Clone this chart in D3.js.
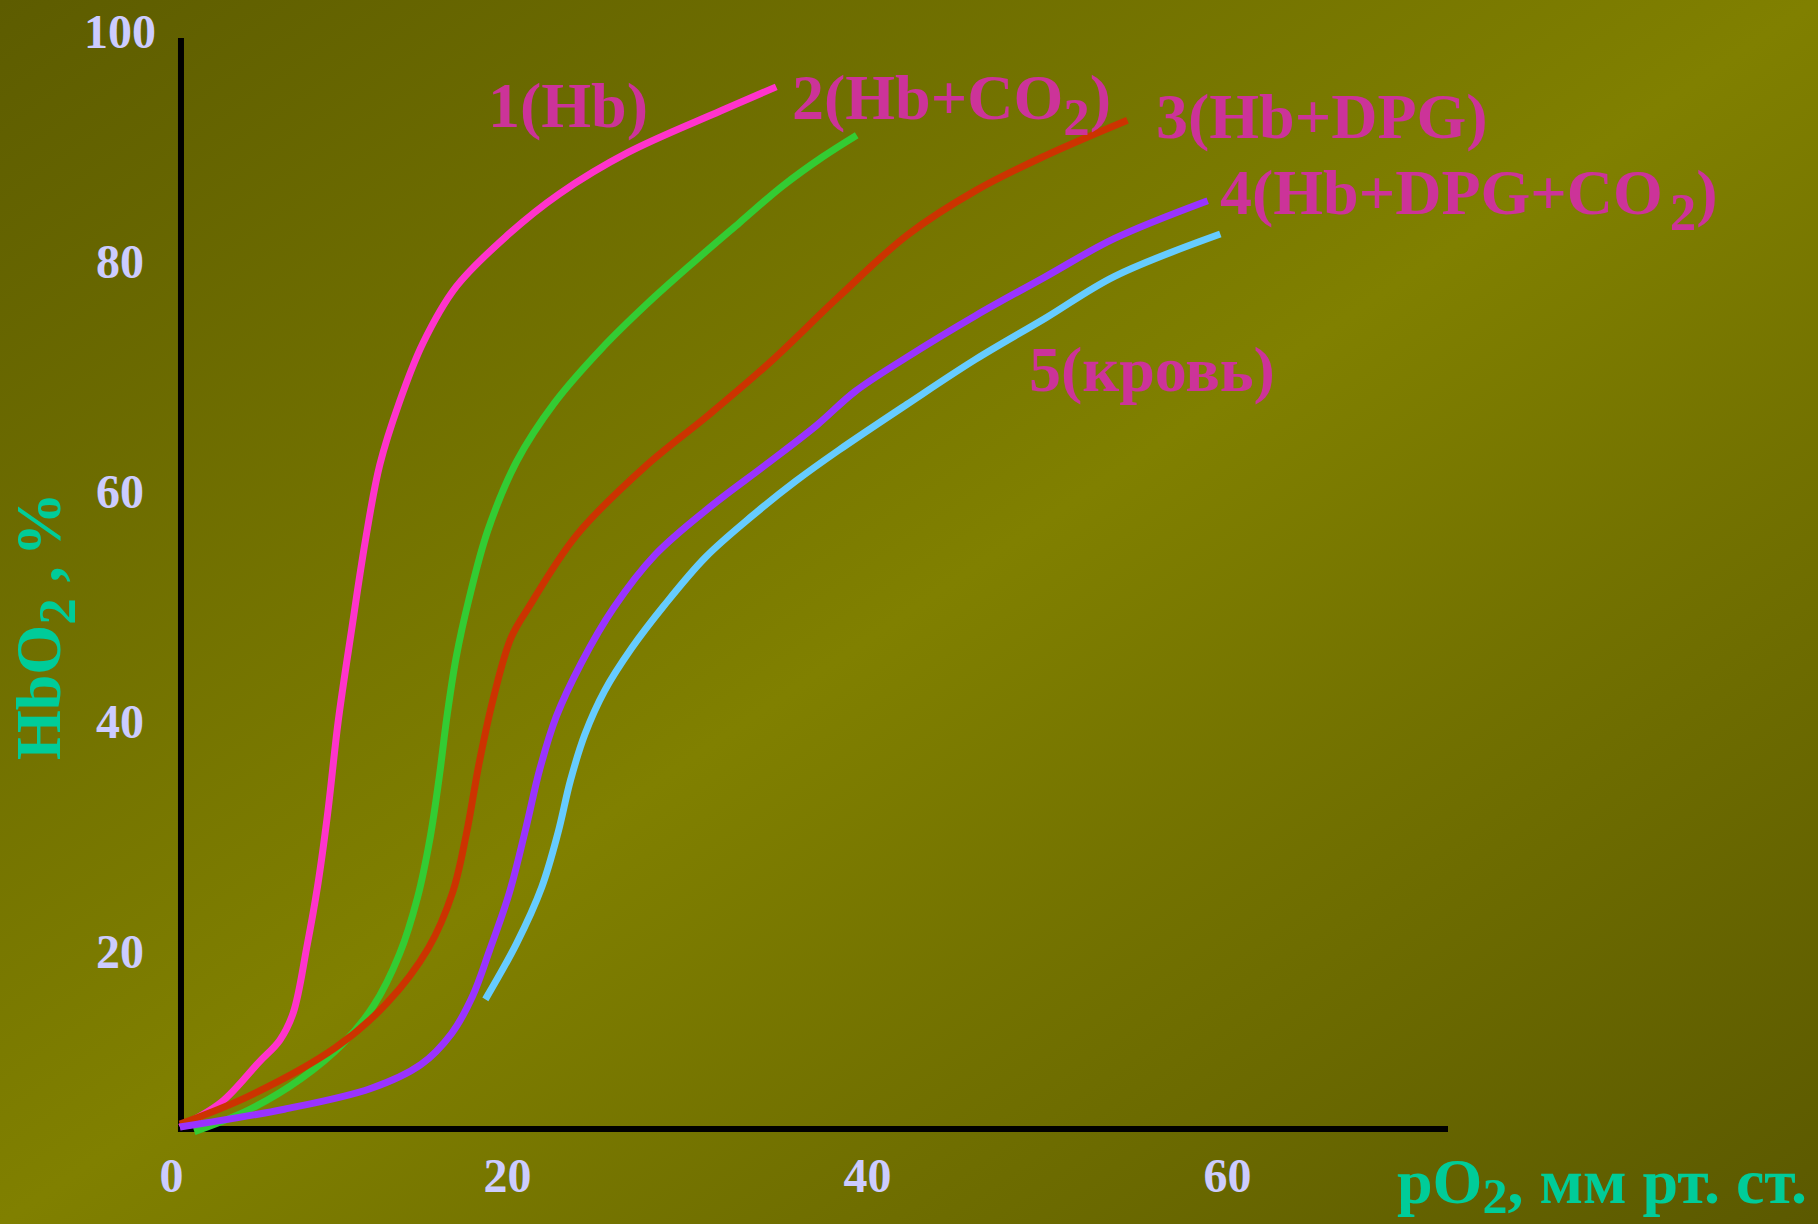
<!DOCTYPE html>
<html>
<head>
<meta charset="utf-8">
<script src="https://cdn.jsdelivr.net/npm/d3@7"></script>
<style>
  html, body { margin: 0; padding: 0; background: #6f6e00; }
  svg { display: block; }
  text { font-family: "Liberation Serif", "Times New Roman", serif; font-weight: bold; }
</style>
</head>
<body>
<svg id="chart" width="1818" height="1224"></svg>
<script>
// ---- data (pO2 in mm Hg, HbO2 in %) ----
const seriesNames = ["1(Hb)", "2(Hb+CO2)", "3(Hb+DPG)", "4(Hb+DPG+CO2)", "5(кровь)"];

const curveHb = [
  [1.8,4.65],[4.1,6.8],[6.2,10.3],[7.35,12.2],[8.1,14.6],[8.85,20.3],[9.45,25.6],[10.0,31.8],
  [10.6,40.0],[11.35,48.0],[12.1,55.6],[12.9,62.2],[14.0,67.7],[15.3,72.8],[17.14,77.7],
  [20.0,82.2],[22.88,85.8],[26.7,89.4],[31.83,93.0],[34.93,95.1]
];
const curveHbCO2 = [
  [2.6,4.25],[5.66,6.17],[8.53,8.86],[10.82,11.85],[12.54,15.15],[14.0,19.7],[15.0,24.6],
  [15.7,29.8],[16.2,35.0],[16.65,40.5],[17.15,45.5],[17.85,50.5],[18.9,56.5],[20.5,62.5],
  [22.6,67.6],[25.2,72.3],[27.8,76.3],[30.3,79.8],[32.9,83.3],[35.3,86.5],[37.5,89.0],[39.4,90.9]
];
const curveHbDPG = [
  [1.8,4.9],[5.66,7.36],[10.44,11.55],[13.31,15.44],[15.6,20.2],[16.94,25.0],[17.71,30.1],
  [18.45,36.5],[19.24,42.1],[20.2,47.2],[21.2,49.9],[23.83,56.1],[27.66,62.1],[31.2,66.6],
  [34.55,71.1],[38.37,76.8],[42.2,82.2],[46.03,86.1],[49.86,89.1],[54.44,92.2]
];
const curveHbDPGCO2 = [
  [1.8,4.65],[7.6,6.2],[12.4,8.0],[15.2,10.1],[16.9,12.8],[18.05,16.0],[19.0,20.0],[20.1,25.0],
  [21.0,30.5],[21.8,35.8],[22.7,40.3],[24.1,45.0],[25.9,49.8],[28.2,54.4],[31.2,58.5],
  [34.4,62.3],[37.2,65.7],[39.3,68.6],[42.2,71.6],[46.0,75.2],[49.9,78.6],[53.7,81.9],[58.9,85.2]
];
const curveBlood = [
  [18.77,15.75],[20.5,20.6],[21.9,25.5],[22.8,30.2],[23.5,34.8],[24.3,38.8],[25.4,42.6],
  [26.9,46.3],[28.7,50.0],[31.0,54.2],[33.6,57.8],[36.0,60.8],[38.4,63.5],[42.2,67.5],
  [46.0,71.4],[49.9,75.0],[53.7,78.6],[59.6,82.3]
];
const seriesColors = ["#FF33CC", "#33CC33", "#CC3300", "#9933FF", "#66CCFF"];

const xTickValues = [0, 20, 40, 60];
const xTickLabels = ["0", "20", "40", "60"];
const yTickValues = [20, 40, 60, 80, 100];
const yTickLabels = ["20", "40", "60", "80", "100"];

// ---- layout ----
const svg = d3.select("#chart");
const W = 1818, H = 1224;

const x = d3.scaleLinear().domain([0, 60]).range([147.5, 1227.5]);
const y = d3.scaleLinear().domain([0, 100]).range([1180.5, 30.5]);

// background gradient
const defs = svg.append("defs");
const grad = defs.append("linearGradient").attr("id", "bg")
  .attr("x1", 0).attr("y1", 0).attr("x2", 1).attr("y2", 1);
grad.append("stop").attr("offset", "0%").attr("stop-color", "#5d5c00");
grad.append("stop").attr("offset", "50%").attr("stop-color", "#808000");
grad.append("stop").attr("offset", "100%").attr("stop-color", "#5b5900");
svg.append("rect").attr("width", W).attr("height", H).attr("fill", "url(#bg)");

// axes frame (drawn where the curves originate)
const axisX0 = 1.86, axisY0 = 4.48, axisXEnd = 72.25, axisYEnd = 99.35;
svg.append("line")
  .attr("x1", x(axisX0)).attr("x2", x(axisX0))
  .attr("y1", y(axisYEnd)).attr("y2", y(axisY0) + 3)
  .attr("stroke", "#000").attr("stroke-width", 6);
svg.append("line")
  .attr("x1", x(axisX0) - 3).attr("x2", x(axisXEnd))
  .attr("y1", y(axisY0)).attr("y2", y(axisY0))
  .attr("stroke", "#000").attr("stroke-width", 6);

// tick labels
svg.append("g").selectAll("text").data(yTickValues).join("text")
  .attr("x", 120).attr("y", d => y(d) + 17)
  .attr("text-anchor", "middle")
  .attr("font-size", 48).attr("fill", "#CCCCFF")
  .text((d, i) => yTickLabels[i]);

svg.append("g").selectAll("text").data(xTickValues).join("text")
  .attr("x", d => x(d) + (d === 0 ? 24 : 0)).attr("y", 1192)
  .attr("text-anchor", "middle")
  .attr("font-size", 48).attr("fill", "#CCCCFF")
  .text((d, i) => xTickLabels[i]);

// curves
const line = d3.line()
  .x(d => x(d[0])).y(d => y(d[1]))
  .curve(d3.curveCatmullRom.alpha(0.5));
const allCurves = [curveHb, curveHbCO2, curveHbDPG, curveHbDPGCO2, curveBlood];
const drawOrder = [4, 1, 0, 2, 3];
svg.append("g").selectAll("path").data(drawOrder).join("path")
  .attr("d", i => line(allCurves[i]))
  .attr("fill", "none")
  .attr("stroke", i => seriesColors[i])
  .attr("stroke-width", 7)
  .attr("stroke-linejoin", "round")
  .attr("stroke-linecap", "butt");

// series labels with subscripts
const labelColor = "#CC3399";
function label(xp, yp, parts) {
  const t = svg.append("text").attr("x", xp).attr("y", yp)
    .attr("font-size", 64).attr("fill", labelColor);
  let shift = 0;
  parts.forEach(p => {
    const ts = t.append("tspan").text(p.t);
    if (p.sub) {
      ts.attr("font-size", 53).attr("dy", 16 - shift);
      if (p.dx) ts.attr("dx", p.dx);
      shift = 16;
    } else {
      ts.attr("dy", -shift);
      shift = 0;
    }
  });
  return t;
}
label(488, 127, [{t: "1(Hb)"}]);
label(792, 119, [{t: "2(Hb+CO"}, {t: "2", sub: true}, {t: ")"}]);
label(1156, 138, [{t: "3(Hb+DPG)"}]);
label(1220, 214, [{t: "4(Hb+DPG+CO"}, {t: "2", sub: true, dx: 7}, {t: ")"}]);
label(1029, 391, [{t: "5(кровь)"}]);

// axis titles
const titleColor = "#00CC99";
const xt = svg.append("text").attr("x", 1397).attr("y", 1203)
  .attr("font-size", 64).attr("fill", titleColor);
xt.append("tspan").text("pO");
xt.append("tspan").text("2").attr("font-size", 50).attr("dy", 10);
xt.append("tspan").text(", мм рт. ст.").attr("dy", -10);

const yt = svg.append("text")
  .attr("transform", "translate(60,760) rotate(-90)")
  .attr("font-size", 64).attr("fill", titleColor);
yt.append("tspan").text("HbO");
yt.append("tspan").text("2").attr("font-size", 53).attr("dy", 15);
yt.append("tspan").text(" ,").attr("dy", -15);
yt.append("tspan").text("%").attr("dx", 10);
</script>
</body>
</html>
